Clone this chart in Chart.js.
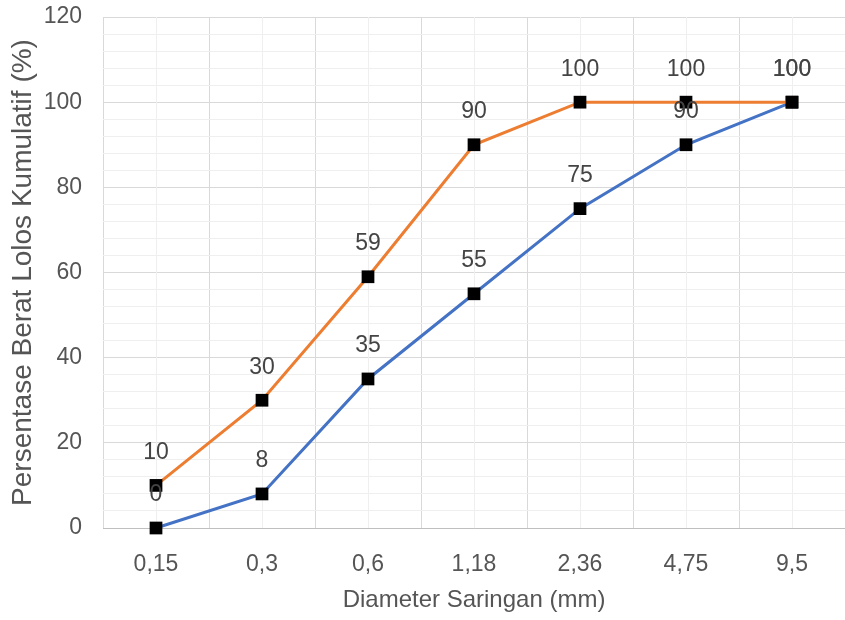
<!DOCTYPE html>
<html>
<head>
<meta charset="utf-8">
<script src="https://cdn.jsdelivr.net/npm/chart.js@4/dist/chart.umd.min.js"></script>
<style>
  html, body { margin: 0; padding: 0; background: #ffffff; }
  #wrap { width: 845px; height: 620px; position: relative; }
</style>
</head>
<body>
<div id="wrap"><canvas id="c"></canvas></div>
<script>
// Sieve sizes (mm) and cumulative passing percentages
const sieveSizes = ['0,15', '0,3', '0,6', '1,18', '2,36', '4,75', '9,5'];
const upperLimit = [10, 30, 59, 90, 100, 100, 100];
const lowerLimit = [0, 8, 35, 55, 75, 90, 100];
const yMin = 0;
const yMax = 120;
const yMajorStep = 20;
const yMinorStep = 4;

const textColor = '#555555';
const fontFamily = "'Liberation Sans', Arial, sans-serif";

// Light gridlines through each category centre
const centreLines = {
  id: 'centreLines',
  beforeDatasetsDraw(chart) {
    const { ctx, chartArea, scales } = chart;
    ctx.save();
    ctx.strokeStyle = '#efefef';
    ctx.lineWidth = 1;
    sieveSizes.forEach((_, i) => {
      const x = Math.round(scales.x.getPixelForValue(i)) + 0.5;
      ctx.beginPath();
      ctx.moveTo(x, chartArea.top);
      ctx.lineTo(x, chartArea.bottom);
      ctx.stroke();
    });
    ctx.restore();
  }
};

// Value labels above every point, drawn after all markers
const valueLabels = {
  id: 'valueLabels',
  afterDatasetsDraw(chart) {
    const { ctx } = chart;
    ctx.save();
    ctx.font = '23px ' + fontFamily;
    ctx.fillStyle = '#444444';
    ctx.textAlign = 'center';
    ctx.textBaseline = 'middle';
    chart.data.datasets.forEach((ds, di) => {
      const meta = chart.getDatasetMeta(di);
      meta.data.forEach((pt, i) => {
        ctx.fillText(String(ds.data[i]), pt.x, pt.y - 33);
      });
    });
    ctx.restore();
  }
};

new Chart(document.getElementById('c'), {
  type: 'line',
  data: {
    labels: sieveSizes,
    datasets: [
      {
        label: 'Batas Atas',
        data: upperLimit,
        borderColor: '#ed7d31',
        borderWidth: 3,
        pointStyle: 'rect',
        pointRadius: 9,
        pointHoverRadius: 9,
        pointBackgroundColor: '#000000',
        pointBorderColor: '#000000',
        pointBorderWidth: 0,
        tension: 0,
        clip: false
      },
      {
        label: 'Batas Bawah',
        data: lowerLimit,
        borderColor: '#4472c4',
        borderWidth: 3,
        pointStyle: 'rect',
        pointRadius: 9,
        pointHoverRadius: 9,
        pointBackgroundColor: '#000000',
        pointBorderColor: '#000000',
        pointBorderWidth: 0,
        tension: 0,
        clip: false
      }
    ]
  },
  options: {
    responsive: true,
    maintainAspectRatio: false,
    animation: false,
    layout: { autoPadding: false, padding: { top: 17, right: -1, left: 0, bottom: 0 } },
    plugins: {
      legend: { display: false },
      tooltip: { enabled: false }
    },
    scales: {
      x: {
        offset: true,
        grid: {
          offset: true,
          color: '#d9d9d9',
          drawTicks: false
        },
        border: { color: '#bfbfbf', width: 1 },
        afterFit: (s) => { s.height = 92; s.paddingLeft = 0; s.paddingRight = 0; },
        ticks: {
          color: textColor,
          padding: 23,
          font: { family: fontFamily, size: 23 }
        },
        title: {
          display: true,
          text: 'Diameter Saringan (mm)',
          color: textColor,
          padding: { top: 0, bottom: 5 },
          font: { family: fontFamily, size: 24 }
        }
      },
      y: {
        min: yMin,
        max: yMax,
        grid: {
          color: (c) => (c.tick && c.tick.value % yMajorStep === 0) ? '#d9d9d9' : '#efefef',
          drawTicks: false
        },
        border: { display: false },
        afterFit: (s) => { s.width = 103; s.paddingTop = 0; s.paddingBottom = 0; },
        ticks: {
          stepSize: yMinorStep,
          autoSkip: false,
          color: textColor,
          padding: 21,
          font: { family: fontFamily, size: 23 },
          callback: (v) => (v % yMajorStep === 0 ? String(v) : '')
        },
        title: {
          display: true,
          text: 'Persentase Berat Lolos Kumulatif (%)',
          color: textColor,
          padding: { top: 6, bottom: 0 },
          font: { family: fontFamily, size: 28 }
        }
      }
    }
  },
  plugins: [centreLines, valueLabels]
});
</script>
</body>
</html>
